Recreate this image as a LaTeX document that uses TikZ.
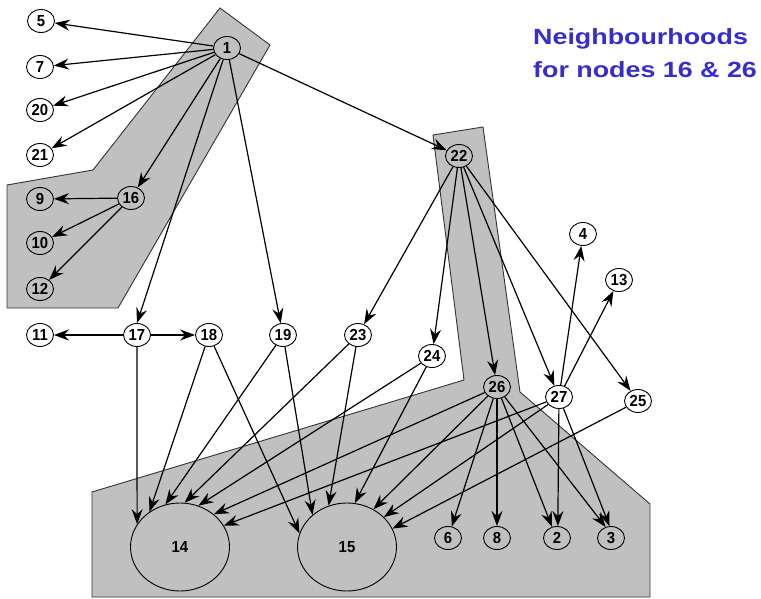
\documentclass[tikz,border=0pt]{standalone}
\usepackage{fontspec}
\usetikzlibrary{shapes.geometric,arrows.meta}
\newfontfamily\labelfont[FakeStretch=0.93]{Liberation Sans}
\newfontfamily\titlefont[FakeStretch=1.22]{Liberation Sans}
\definecolor{regiongray}{RGB}{192,192,192}
\definecolor{titleblue}{RGB}{55,45,205}
\tikzset{
  region/.style={fill=regiongray, draw=black!80, line width=0.9pt},
  vnode/.style={ellipse, draw=black, line width=0.9pt, minimum width=27pt, minimum height=23pt, inner sep=0pt, fill=white,
    font=\labelfont\bfseries\fontsize{16}{16}\selectfont},
  gnode/.style={vnode, fill=none},
  bignode/.style={ellipse, draw=black, line width=0.9pt, minimum width=99pt, minimum height=88pt, inner sep=0pt,
    font=\labelfont\bfseries\fontsize{16}{16}\selectfont},
  arr/.style={-{Stealth[length=15pt,width=11pt,inset=5pt]}, line width=1.2pt, black},
  titletext/.style={anchor=base west, inner sep=0pt, text=titleblue, font=\titlefont\bfseries\fontsize{22}{22}\selectfont}
}
\begin{document}
\begin{tikzpicture}[x=1pt,y=-1pt]
\useasboundingbox (0,0) rectangle (761,599);
% regions
\draw[region] (220,8) -- (270,45) -- (118,308) -- (7,308) -- (7,185) -- (93,170) -- cycle;
\draw[region] (433,135) -- (483,127) -- (520,392) -- (650,504) -- (650,597) -- (92,597) -- (92,492) -- (464,380) -- cycle;
% title
\node[titletext] (t1) at (533,45) {Neighbourhoods};
\node[titletext] (t2) at (533,78) {for nodes 16 \& 26};
% nodes
\node[gnode] (n1) at (227,48) {1};
\node[vnode] (n5) at (41,21) {5};
\node[vnode] (n7) at (40,67) {7};
\node[vnode] (n20) at (40,110) {20};
\node[vnode] (n21) at (40,155) {21};
\node[gnode] (n16) at (131,198) {16};
\node[gnode] (n9) at (40,199) {9};
\node[gnode] (n10) at (40,243) {10};
\node[gnode] (n12) at (40,289) {12};
\node[gnode] (n22) at (459,156) {22};
\node[vnode] (n4) at (583,234) {4};
\node[vnode] (n13) at (619,280) {13};
\node[vnode] (n11) at (40,335) {11};
\node[vnode] (n17) at (137,335) {17};
\node[vnode] (n18) at (209,335) {18};
\node[vnode] (n19) at (283,335) {19};
\node[vnode] (n23) at (358,335) {23};
\node[vnode] (n24) at (432,356) {24};
\node[gnode] (n26) at (497,387) {26};
\node[vnode] (n27) at (559,397) {27};
\node[vnode] (n25) at (638,401) {25};
\node[bignode] (n14) at (180,547) {14};
\node[bignode] (n15) at (347,547) {15};
\node[gnode] (n6) at (448,538) {6};
\node[gnode] (n8) at (497,538) {8};
\node[gnode] (n2) at (557,538) {2};
\node[gnode] (n3) at (611,538) {3};
% edges
\foreach \t in {n5,n7,n20,n21,n16,n19,n22} \draw[arr] (n1) -- (\t);
\draw[arr] (n1) -- (n17.north);
\foreach \t in {n9,n10,n12} \draw[arr] (n16) -- (\t);
\draw[arr] (n17) -- (n11);
\draw[arr] (n17) -- (n18);
\draw[arr] (n17.south) -- (n14.152);
\draw[arr] (n18) -- (n14.131);
\draw[arr] (n19) -- (n14.109);
\draw[arr] (n23) -- (n14.84);
\draw[arr] (n24) -- (n14.66);
\draw[arr] (n26) -- (n14.44);
\draw[arr] (n27) -- (n14.26);
\draw[arr] (n18) -- (n15.164);
\draw[arr] (n19) -- (n15.137);
\draw[arr] (n23) -- (n15.114);
\draw[arr] (n24) -- (n15.80);
\draw[arr] (n26) -- (n15.55);
\draw[arr] (n27) -- (n15.39);
\draw[arr] (n25) -- (n15.22);
\foreach \t in {n23,n24,n26,n27,n25} \draw[arr] (n22) -- (\t);
\draw[arr] (n26) -- (n6);
\draw[arr] (n26) -- (n8);
\draw[arr] (n26) -- (n2.114);
\draw[arr] (n26) -- (n3.116);
\draw[arr] (n27) -- (n2.86);
\draw[arr] (n27) -- (n3.97);
\draw[arr] (n27) -- (n4);
\draw[arr] (n27) -- (n13);
\end{tikzpicture}
\end{document}
